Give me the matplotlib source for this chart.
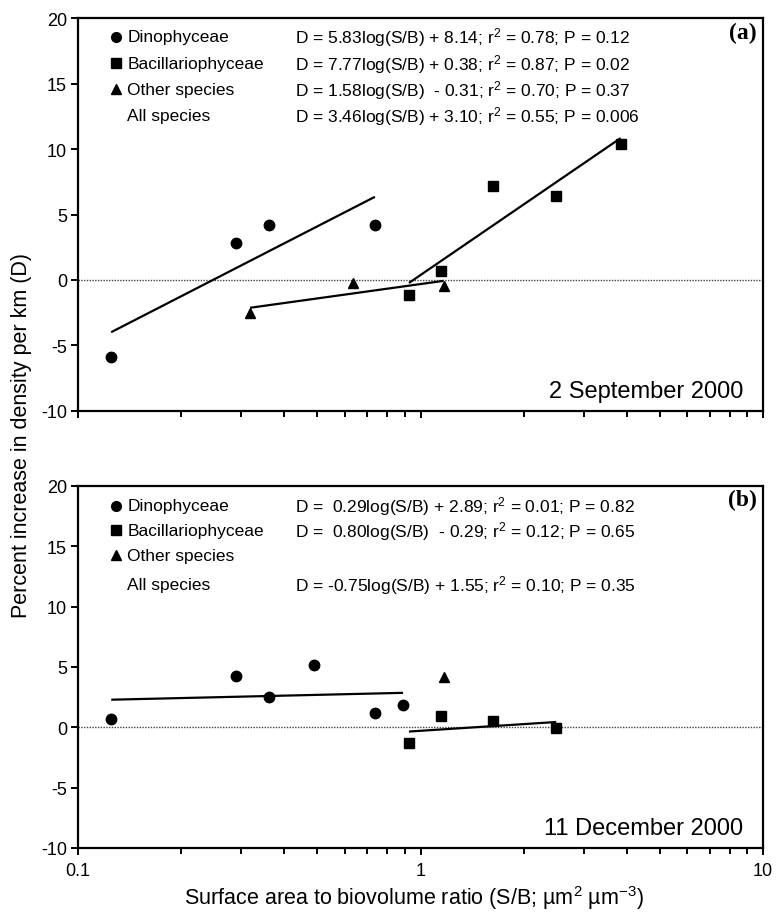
import numpy as np
import matplotlib
matplotlib.use("Agg")
import matplotlib.pyplot as plt

plt.rcParams['font.family'] = ['Liberation Sans', 'DejaVu Sans']
plt.rcParams['mathtext.fontset'] = 'custom'
plt.rcParams['mathtext.rm'] = 'Liberation Sans'
plt.rcParams['mathtext.it'] = 'Liberation Sans:italic'
plt.rcParams['mathtext.default'] = 'regular'

# ---- Data: panel (a) 2 September 2000 ----
a_dino_x = [0.125, 0.290, 0.361, 0.736]
a_dino_y = [-5.85, 2.8, 4.2, 4.2]
a_bac_x = [0.925, 1.146, 1.626, 2.49, 3.84]
a_bac_y = [-1.15, 0.7, 7.15, 6.4, 10.4]
a_oth_x = [0.318, 0.633, 1.167]
a_oth_y = [-2.5, -0.25, -0.45]
a_fits = {"dino": (5.83, 8.14), "bac": (7.77, 0.38), "oth": (1.58, -0.31)}
a_eqs = ["D = 5.83log(S/B) + 8.14; r$^2$ = 0.78; P = 0.12",
         "D = 7.77log(S/B) + 0.38; r$^2$ = 0.87; P = 0.02",
         "D = 1.58log(S/B)  - 0.31; r$^2$ = 0.70; P = 0.37",
         "D = 3.46log(S/B) + 3.10; r$^2$ = 0.55; P = 0.006"]

# ---- Data: panel (b) 11 December 2000 ----
b_dino_x = [0.125, 0.290, 0.361, 0.489, 0.736, 0.889]
b_dino_y = [0.7, 4.25, 2.55, 5.2, 1.15, 1.85]
b_bac_x = [0.925, 1.146, 1.626, 2.49]
b_bac_y = [-1.3, 0.9, 0.5, -0.05]
b_oth_x = [1.167]
b_oth_y = [4.2]
b_fits = {"dino": (0.29, 2.89), "bac": (0.80, -0.29)}
b_eqs = ["D =  0.29log(S/B) + 2.89; r$^2$ = 0.01; P = 0.82",
         "D =  0.80log(S/B)  - 0.29; r$^2$ = 0.12; P = 0.65",
         "",
         "D = -0.75log(S/B) + 1.55; r$^2$ = 0.10; P = 0.35"]

groups = ["Dinophyceae", "Bacillariophyceae", "Other species", "All species"]
markers = ["o", "s", "^", None]

yticks = [-10, -5, 0, 5, 10, 15, 20]
xticks = [0.1, 1, 10]
xticklabels = ["0.1", "1", "10"]

fig = plt.figure(figsize=(7.81, 9.20), dpi=100)
axA = fig.add_axes([0.0999, 0.5522, 0.8771, 0.4271])
axB = fig.add_axes([0.0999, 0.0772, 0.8771, 0.3935])

MS = 7.5
LW = 1.6


def fitline(ax, xs, coef):
    xx = np.array([min(xs), max(xs)])
    ax.plot(xx, coef[0] * np.log(xx) + coef[1], color='black', lw=LW,
            solid_capstyle='butt')


def setup(ax, show_xlabels):
    ax.set_xscale('log')
    ax.set_xlim(0.1, 10)
    ax.set_ylim(-10, 20)
    ax.set_yticks(yticks)
    ax.set_yticklabels([str(t) for t in yticks], fontsize=13)
    ax.set_xticks(xticks)
    if show_xlabels:
        ax.set_xticklabels(xticklabels, fontsize=13)
    else:
        ax.set_xticklabels([])
    ax.tick_params(axis='y', which='major', direction='out', length=5,
                   width=1.4, pad=3)
    ax.tick_params(axis='x', which='major', direction='out', length=5,
                   width=1.4, pad=5)
    ax.tick_params(axis='x', which='minor', direction='out', length=4.5,
                   width=1.4)
    ax.tick_params(axis='x', which='minor', labelbottom=False)
    for s in ax.spines.values():
        s.set_linewidth(1.6)
    ax.axhline(0, color='#444444', lw=1.0, ls=(0, (1, 1)), zorder=1)


def legend(ax, eqs, rows, label):
    for i, (g, m) in enumerate(zip(groups, markers)):
        y = rows[i]
        if m is not None:
            ax.plot([0.0555], [y], marker=m, color='black', ms=7,
                    transform=ax.transAxes, clip_on=False)
        ax.text(0.072, y, g, transform=ax.transAxes,
                fontsize=12.5, va='center', ha='left')
        if eqs[i]:
            ax.text(0.317, y, eqs[i], transform=ax.transAxes, fontsize=12.5,
                    va='center', ha='left')
    ax.text(0.991, 0.964, label, transform=ax.transAxes,
            fontsize=17, fontweight='bold', family='Liberation Serif',
            ha='right', va='center')


# Panel (a)
setup(axA, False)
axA.plot(a_dino_x, a_dino_y, 'o', color='black', ms=MS)
axA.plot(a_bac_x, a_bac_y, 's', color='black', ms=MS)
axA.plot(a_oth_x, a_oth_y, '^', color='black', ms=MS)
fitline(axA, a_dino_x, a_fits["dino"])
fitline(axA, a_bac_x, a_fits["bac"])
fitline(axA, a_oth_x, a_fits["oth"])
legend(axA, a_eqs, [0.952, 0.885, 0.819, 0.753], "(a)")
axA.text(0.971, 0.05, "2 September 2000", transform=axA.transAxes,
         fontsize=17, ha='right', va='center')

# Panel (b)
setup(axB, True)
axB.plot(b_dino_x, b_dino_y, 'o', color='black', ms=MS)
axB.plot(b_bac_x, b_bac_y, 's', color='black', ms=MS)
axB.plot(b_oth_x, b_oth_y, '^', color='black', ms=MS)
fitline(axB, b_dino_x, b_fits["dino"])
fitline(axB, b_bac_x, b_fits["bac"])
legend(axB, b_eqs, [0.945, 0.877, 0.809, 0.729], "(b)")
axB.text(0.971, 0.055, "11 December 2000", transform=axB.transAxes,
         fontsize=17, ha='right', va='center')

fig.text(0.028, 1 - 435 / 920, "Percent increase in density per km (D)",
         rotation=90, fontsize=15.5, ha='center', va='center')
fig.text(0.53, 1 - 898 / 920,
         "Surface area to biovolume ratio (S/B; \u00b5m$^2$ \u00b5m$^{-3}$)",
         fontsize=15.5, ha='center', va='center')

fig.savefig("out.png", dpi=100)
